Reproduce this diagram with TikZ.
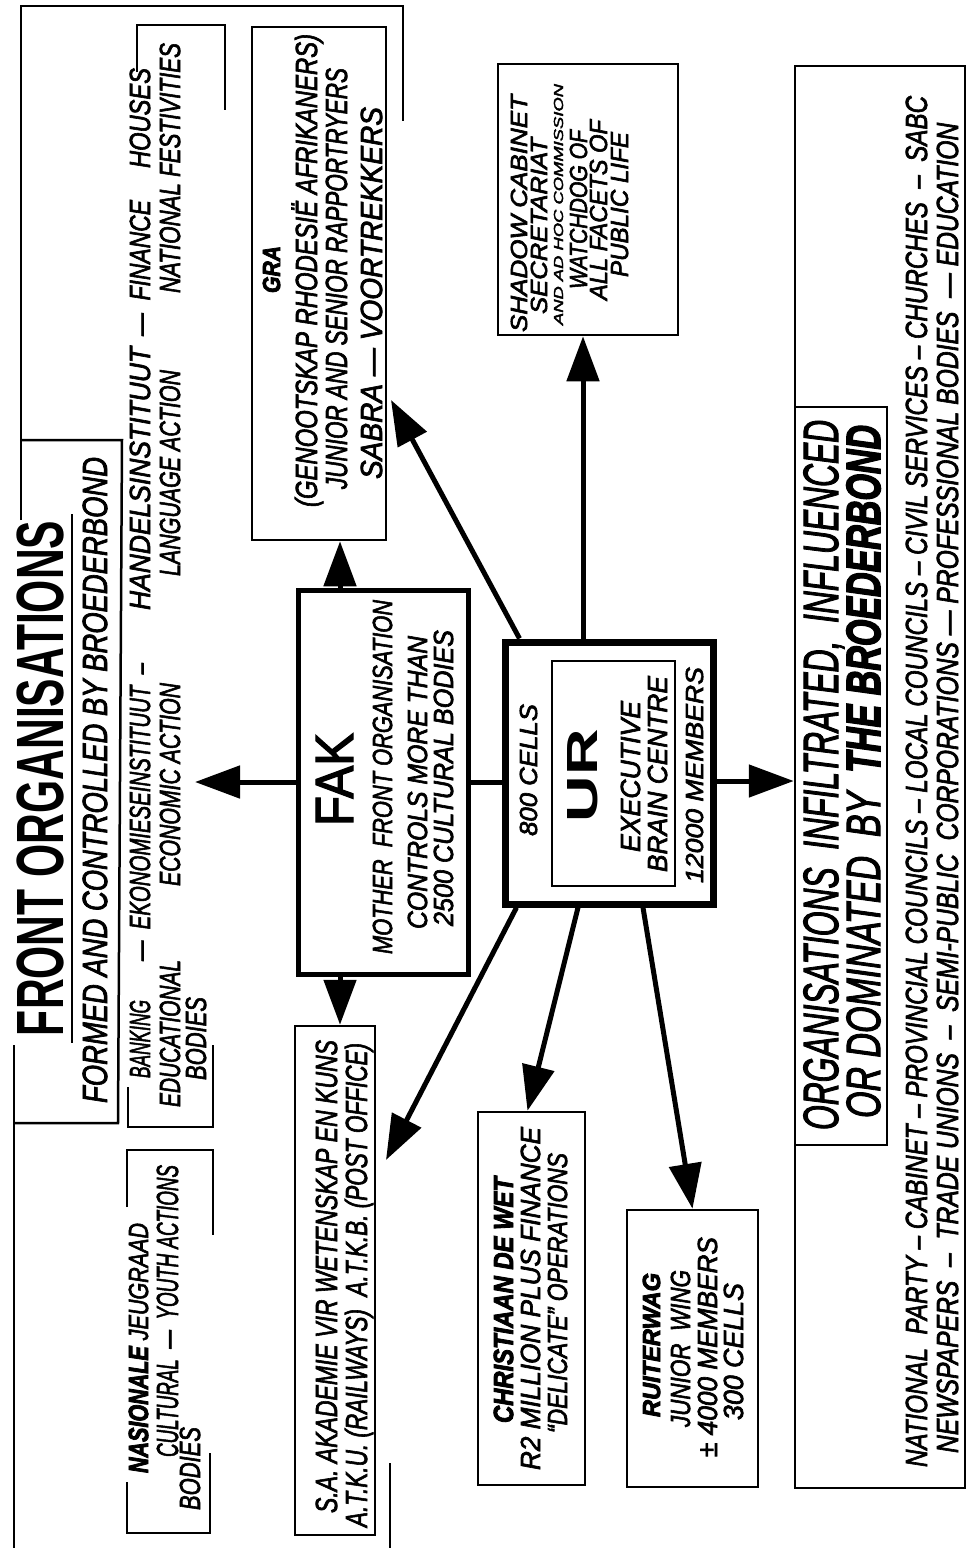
\documentclass[tikz,border=0pt]{standalone}
\usepackage{fontspec}
\setmainfont{Liberation Sans}
\newfontfamily\penfont{Liberation Sans}[ItalicFeatures={FakeBold=2.5}]
\newfontfamily\fakfont{Liberation Sans}[FakeBold=2.5]
\newfontfamily\bifont{Liberation Sans}[FakeBold=3.5]
\newcommand\bi{\bifont\bfseries\itshape}
\usepackage{graphicx}
\usetikzlibrary{arrows.meta,calc}
\tikzset{
  txt/.style={rotate=90, anchor=base west, inner sep=0pt, outer sep=0pt, font=\penfont\itshape},
  box/.style={draw, rectangle, line width=2.5pt, inner sep=0pt},
  heavybox/.style={draw, rectangle, line width=5pt, inner sep=0pt},
  urbox/.style={draw, rectangle, line width=7pt, inner sep=0pt},
  frameline/.style={line width=2.5pt},
  arr/.style={line width=5pt, -{Triangle[length=45pt,width=32pt]}},
  plainlink/.style={line width=5pt}
}
\newcommand\TL[6]{\node[txt] (#1) at (#2,#3) {\resizebox{#4pt}{#5pt}{\vphantom{X}\smash{#6}}};}
\begin{document}
\begin{tikzpicture}[x=1pt,y=-1pt]
\fill[white] (0,0) rectangle (969,1548);
\useasboundingbox (0,0) rectangle (969,1548);

% ---------- frame of front organisations ----------
\draw[frameline] (21,520) -- (21,6) -- (403,6) -- (403,121);
\draw[frameline] (21,440) -- (122,440) -- (118,1123) -- (14,1123);
\draw[frameline] (14,1045) -- (14,1548);
\draw[frameline] (390,1463) -- (390,1548);
\draw[frameline] (72,514) -- (72,1043);
% bracket banking group
\draw[frameline] (137,72) -- (137,25) -- (225,25) -- (225,110);
\draw[frameline] (128,1087) -- (128,1127) -- (213,1127) -- (213,1045);
% bracket nasionale
\draw[frameline] (127,1207) -- (127,1150) -- (213,1150) -- (213,1235);
\draw[frameline] (127,1482) -- (127,1533) -- (210,1533) -- (210,1453);

% ---------- boxes ----------
\node[box, minimum width=134pt, minimum height=513pt] (gra) at (319,283.5) {};
\node[box, minimum width=180pt, minimum height=271pt] (shadow) at (588,199.5) {};
\node[heavybox, minimum width=170pt, minimum height=384pt] (fak) at (383,782) {};
\node[urbox, minimum width=208pt, minimum height=262pt] (ur) at (609,773) {};
\node[box, line width=2pt, minimum width=123pt, minimum height=225pt] (urin) at (613.5,773.5) {};
\node[box, minimum width=80pt, minimum height=509pt] (sa) at (335,1280.5) {};
\node[box, minimum width=107pt, minimum height=373pt] (chr) at (531.5,1298.5) {};
\node[box, minimum width=131pt, minimum height=277pt] (ruit) at (692.5,1348.5) {};
\node[box, minimum width=170pt, minimum height=1422pt] (org) at (880,777) {};
\node[box, minimum width=92pt, minimum height=738pt] (orgt) at (841,776) {};

% ---------- connectors ----------
\coordinate (fronttip) at (195,782);
\coordinate (gratip) at (391,400);
\coordinate (satip) at (386,1160);
\draw[arr] (fak.west) -- (fronttip);
\draw[arr] ([xshift=-43pt]fak.north) -- ([xshift=-43pt]fak.north |- gra.south);
\draw[arr] ([xshift=-43pt]fak.south) -- ([xshift=-43pt]fak.south |- sa.north);
\draw[plainlink] (fak.east) -- (fak.east -| ur.west);
\draw[arr] ([yshift=-8pt]ur.east) -- ([yshift=-8pt]ur.east -| org.west);
\draw[arr] ([xshift=-26pt]ur.north) -- ([xshift=-26pt]ur.north |- shadow.south);
\draw[arr] ([xshift=18pt]ur.north west) -- (gratip);
\draw[arr] ([xshift=15pt]ur.south west) -- (satip);
\draw[arr] ([xshift=-31pt]ur.south) -- ([xshift=-4pt]chr.north);
\draw[arr] ([xshift=34pt]ur.south) -- (ruit.north);

% ---------- texts ----------
\TL{title}{63}{1036}{515}{46}{\rmfamily\upshape\bfseries FRONT ORGANISATIONS}
\TL{subtitle}{107}{1103}{646}{24}{FORMED AND CONTROLLED BY BROEDERBOND}

\TL{bk1a}{150}{1078}{78}{20}{BANKING}
\TL{bk1b}{150}{961}{298}{20}{— \ EKONOMIESEINSTITUUT \ –}
\TL{bk1c}{150}{610}{263}{20}{HANDELSINSTITUUT}
\TL{bk1d}{150}{336}{136}{20}{— \ FINANCE}
\TL{bk1e}{150}{168}{100}{20}{HOUSES}
\TL{bk2a}{180}{1107}{147}{20}{EDUCATIONAL}
\TL{bk2b}{180}{886}{203}{20}{ECONOMIC ACTION}
\TL{bk2c}{180}{576}{206}{20}{LANGUAGE ACTION}
\TL{bk2d}{180}{293}{250}{20}{NATIONAL FESTIVITIES}
\TL{bk3}{206}{1080}{83}{20}{BODIES}

\TL{nj1}{148}{1473}{250}{19}{{\bi NASIONALE} JEUGRAAD}
\TL{nj2}{178}{1457}{292}{21}{CULTURAL \ — \ YOUTH ACTIONS}
\TL{nj3}{200}{1510}{83}{20}{BODIES}

\TL{gra1}{280}{293}{47}{17}{\bi GRA}
\TL{gra2}{317}{507}{473}{21}{(GENOOTSKAP RHODESIË AFRIKANERS)}
\TL{gra3}{347}{489}{421}{21}{JUNIOR AND SENIOR RAPPORTRYERS}
\TL{gra4}{382}{479}{372}{21}{SABRA — VOORTREKKERS}

\TL{sh1}{527}{332}{237}{16}{SHADOW CABINET}
\TL{sh2}{547}{314}{176}{16}{SECRETARIAT}
\TL{sh3}{563}{325}{241}{9}{AND AD HOC COMMISSION}
\TL{sh4}{587}{289}{159}{17}{WATCHDOG OF}
\TL{sh5}{607}{300}{180}{17}{ALL FACETS OF}
\TL{sh6}{628}{277}{145}{17}{PUBLIC LIFE}

\TL{fak1}{353}{826}{93}{37}{\fakfont\upshape FAK}
\TL{fak2}{392}{954}{354}{19}{MOTHER \ FRONT ORGANISATION}
\TL{fak3}{427}{929}{293}{19}{CONTROLS MORE THAN}
\TL{fak4}{453}{926}{296}{19}{2500 CULTURAL BODIES}

\TL{ur1}{537}{836}{132}{17}{800 CELLS}
\TL{ur2}{597}{822}{93}{30}{\rmfamily\upshape\bfseries UR}
\TL{ur3}{640}{852}{151}{19}{EXECUTIVE}
\TL{ur4}{667}{872}{196}{19}{BRAIN CENTRE}
\TL{ur5}{703}{883}{216}{17}{12000 MEMBERS}

\TL{sa1}{337}{1513}{473}{21}{S.A. AKADEMIE VIR WETENSKAP EN KUNS}
\TL{sa2}{367}{1527}{484}{21}{A.T.K.U. (RAILWAYS) \ A.T.K.B. (POST OFFICE)}

\TL{chr1}{513}{1423}{246}{19}{\bi CHRISTIAAN DE WET}
\TL{chr2}{540}{1470}{343}{19}{R2 MILLION PLUS FINANCE}
\TL{chr3}{567}{1433}{280}{19}{“DELICATE” OPERATIONS}

\TL{rw1}{660}{1417}{144}{17}{\bi RUITERWAG}
\TL{rw2}{690}{1427}{157}{19}{JUNIOR \ WING}
\TL{rw3}{717}{1457}{220}{19}{± 4000 MEMBERS}
\TL{rw4}{743}{1420}{137}{19}{300 CELLS}

\TL{org1}{838}{1130}{710}{34}{ORGANISATIONS \ INFILTRATED, \ INFLUENCED}
\TL{org2}{880}{1118}{693}{33}{OR DOMINATED \ BY \ {\bi THE BROEDERBOND}}
\TL{org3}{927}{1467}{1371}{21}{NATIONAL \ PARTY – CABINET – PROVINCIAL COUNCILS – LOCAL COUNCILS – CIVIL SERVICES – CHURCHES \ – \ SABC}
\TL{org4}{958}{1453}{1330}{21}{NEWSPAPERS \ – \ TRADE UNIONS \ – \ SEMI-PUBLIC \ CORPORATIONS — PROFESSIONAL BODIES \ — EDUCATION}
\end{tikzpicture}
\end{document}
